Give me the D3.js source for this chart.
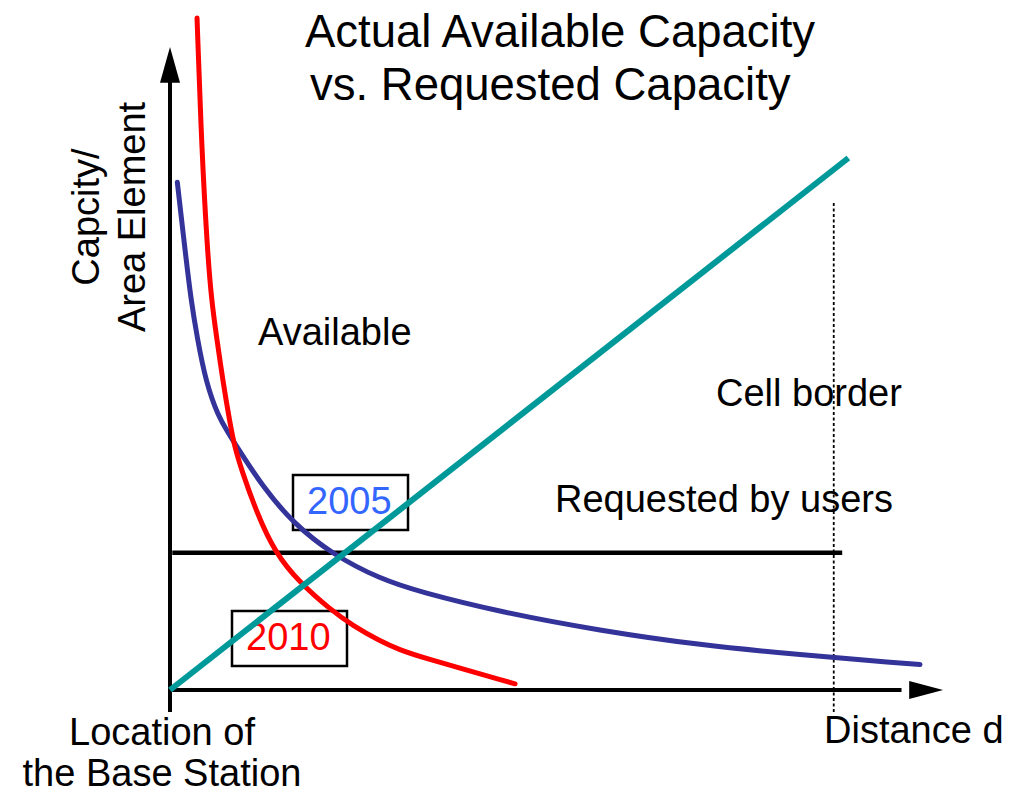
<!DOCTYPE html>
<html>
<head>
<meta charset="utf-8">
<script src="https://cdn.jsdelivr.net/npm/d3@7"></script>
<style>
  html, body { margin: 0; padding: 0; background: #fff; }
  svg { display: block; }
  text { font-family: "Liberation Sans", Arial, sans-serif; fill: #000; }
</style>
</head>
<body>
<svg id="chart" width="1024" height="794"></svg>
<script>
// ---- Data (schematic units: distance 0..10, capacity 0..10) ----
const dist2010 = [0.351, 0.412, 0.485, 0.539, 0.604, 0.692, 0.779, 0.838, 0.929, 1.126, 1.364, 1.688, 2.078, 2.377, 2.727, 2.987, 3.247, 4.481];
const cap2010  = [9.74, 7.83, 6.38, 5.65, 5.12, 4.44, 3.87, 3.53, 3.19, 2.57, 1.99, 1.55, 1.17, 0.93, 0.71, 0.58, 0.48, 0.09];

const dist2005 = [0.095, 0.195, 0.273, 0.351, 0.468, 0.630, 0.734, 0.864, 1.208, 1.597, 2.117, 2.727, 3.247, 4.286, 5.584, 6.883, 8.182, 9.481, 9.740];
const cap2005  = [7.36, 6.38, 5.65, 5.12, 4.45, 3.96, 3.77, 3.53, 2.94, 2.42, 1.96, 1.61, 1.42, 1.13, 0.86, 0.65, 0.51, 0.39, 0.37];

const distRequested = [0, 8.81];
const capRequested  = [0, 7.71];          // rising requested-capacity line

const userLevelDist = [0.03, 8.73];
const userLevelCap  = [1.99, 1.99];       // "Requested by users" level

const cellBorderDist = 8.62;
const cellBorderCap  = [-0.32, 7.06];

const titleLines = ["Actual Available Capacity", "vs. Requested Capacity"];
const yLabelLines = ["Capcity/", "Area Element"];
const xOriginLabel = ["Location of", "the Base Station"];

// ---- Scales ----
const x = d3.scaleLinear().domain([0, 10]).range([170, 940]);
const y = d3.scaleLinear().domain([0, 10]).range([690, 0]);

const svg = d3.select("#chart");
const line = d3.line().x(d => x(d[0])).y(d => y(d[1]));
const curve = d3.line().x(d => x(d[0])).y(d => y(d[1])).curve(d3.curveBasis);

// ---- Axes ----
svg.append("line")
  .attr("x1", x(0)).attr("x2", x(0))
  .attr("y1", y(-0.32)).attr("y2", y(8.9))
  .attr("stroke", "#000").attr("stroke-width", 4);
svg.append("polygon")
  .attr("points", [[x(0), y(9.32)], [x(0) - 10, y(8.8)], [x(0) + 10, y(8.8)]].join(" "))
  .attr("fill", "#000");

svg.append("line")
  .attr("x1", x(0)).attr("x2", x(9.5))
  .attr("y1", y(0)).attr("y2", y(0))
  .attr("stroke", "#000").attr("stroke-width", 4);
svg.append("polygon")
  .attr("points", [[x(10.04), y(0)], [x(9.6), y(0) - 9], [x(9.6), y(0) + 9]].join(" "))
  .attr("fill", "#000");

// ---- Cell border dotted line ----
svg.append("line")
  .attr("x1", x(cellBorderDist)).attr("x2", x(cellBorderDist))
  .attr("y1", y(cellBorderCap[0])).attr("y2", y(cellBorderCap[1]))
  .attr("stroke", "#000").attr("stroke-width", 1.8)
  .attr("stroke-dasharray", "3,2.5");

// ---- Label boxes (outline only) ----
const boxes = [
  { text: "2005", color: "#3366ff", x0: 293, y0: 475, w: 115, h: 55, tx: 307, ty: 514 },
  { text: "2010", color: "#ff0000", x0: 232, y0: 611, w: 115, h: 55, tx: 246, ty: 650 }
];
boxes.forEach(b => {
  svg.append("rect")
    .attr("x", b.x0).attr("y", b.y0).attr("width", b.w).attr("height", b.h)
    .attr("fill", "none").attr("stroke", "#000").attr("stroke-width", 2.5);
  svg.append("text")
    .attr("x", b.tx).attr("y", b.ty)
    .attr("font-size", 38).style("fill", b.color).text(b.text);
});

// ---- Requested by users level ----
svg.append("path")
  .datum(d3.zip(userLevelDist, userLevelCap))
  .attr("d", line).attr("fill", "none")
  .attr("stroke", "#000").attr("stroke-width", 4.5);

// ---- 2005 curve ----
svg.append("path")
  .datum(d3.zip(dist2005, cap2005))
  .attr("d", curve).attr("fill", "none")
  .attr("stroke", "#333399").attr("stroke-width", 5).attr("stroke-linecap", "round");

// ---- 2010 curve ----
svg.append("path")
  .datum(d3.zip(dist2010, cap2010))
  .attr("d", curve).attr("fill", "none")
  .attr("stroke", "#ff0000").attr("stroke-width", 5).attr("stroke-linecap", "round");

// ---- Requested capacity rising line (drawn on top) ----
svg.append("path")
  .datum(d3.zip(distRequested, capRequested))
  .attr("d", line).attr("fill", "none")
  .attr("stroke", "#009999").attr("stroke-width", 6);

// ---- Texts ----
svg.append("text").attr("x", 305).attr("y", 47).attr("font-size", 45.5).text(titleLines[0]);
svg.append("text").attr("x", 310).attr("y", 100).attr("font-size", 45.5).text(titleLines[1]);

svg.append("text").attr("x", 258).attr("y", 345).attr("font-size", 38).text("Available");
svg.append("text").attr("x", 716).attr("y", 406).attr("font-size", 38).text("Cell border");
svg.append("text").attr("x", 555).attr("y", 512).attr("font-size", 38).text("Requested by users");
svg.append("text").attr("x", 824).attr("y", 743).attr("font-size", 38).text("Distance d");

svg.append("text").attr("x", 162).attr("y", 745).attr("font-size", 38)
  .attr("text-anchor", "middle").text(xOriginLabel[0]);
svg.append("text").attr("x", 162).attr("y", 786).attr("font-size", 38)
  .attr("text-anchor", "middle").text(xOriginLabel[1]);

svg.append("text").attr("transform", "translate(99,217) rotate(-90)")
  .attr("font-size", 38).attr("text-anchor", "middle").text(yLabelLines[0]);
svg.append("text").attr("transform", "translate(145,217) rotate(-90)")
  .attr("font-size", 38).attr("text-anchor", "middle").text(yLabelLines[1]);
</script>
</body>
</html>
